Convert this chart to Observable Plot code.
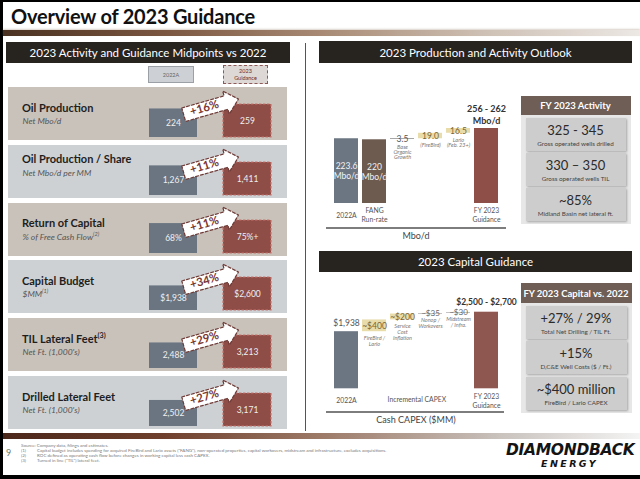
<!DOCTYPE html>
<html><head><meta charset="utf-8">
<script src="https://cdn.jsdelivr.net/npm/d3@7"></script>
<script src="https://cdn.jsdelivr.net/npm/@observablehq/plot@0.6"></script>
<style>
html,body{margin:0;padding:0;background:#fff}
#slide{position:relative;width:640px;height:479px;overflow:hidden;background:#fff;font-family:Lato,"Open Sans",sans-serif;color:#222}
.abs{position:absolute;box-sizing:border-box}
.hdr{background:#27231f;color:#fff;font-size:11.5px;display:flex;align-items:center;justify-content:center;white-space:nowrap}
.rt{font-weight:700;font-size:11px;line-height:13px;color:#1e1e1e;white-space:nowrap}
.rs{font-style:italic;font-size:8.5px;line-height:10px;color:#555;white-space:nowrap}
.rs sup,.rt sup{font-size:65%;vertical-align:super;line-height:0}
.kh{background:#6e5e55;color:#fff;font-weight:700;font-size:9.5px;display:flex;align-items:center;justify-content:center;white-space:nowrap}
.kp{background:#e7e7e7}
.kb{background:#cdcdcd;box-shadow:1px 1px 2px rgba(0,0,0,.28);text-align:center}
.kv{font-size:13px;color:#2a2a2a;line-height:15px;margin-top:5px;white-space:nowrap}
.kc{font-size:6.3px;color:#444;line-height:8px;margin-top:2px;white-space:nowrap}
svg.plt{position:absolute;overflow:visible}
</style></head>
<body><div id="slide"></div>
<script>
// ---------------- data ----------------
const periods = ["2022A", "2023 Guidance"];
const metricNames = ["Oil Production", "Oil Production / Share", "Return of Capital", "Capital Budget", "TIL Lateral Feet", "Drilled Lateral Feet"];
const metricTitleNotes = ["", "", "", "", "(3)", ""];
const metricUnits = ["Net Mbo/d", "Net Mbo/d per MM", "% of Free Cash Flow", "$MM", "Net Ft. (1,000's)", "Net Ft. (1,000's)"];
const metricUnitNotes = ["", "", "(2)", "(1)", "", ""];
const values2022 = [224, 1267, 68, 1938, 2488, 2502];
const values2023 = [259, 1411, 75, 2600, 3213, 3171];
const labels2022 = ["224", "1,267", "68%", "$1,938", "2,488", "2,502"];
const labels2023 = ["259", "1,411", "75%+", "$2,600", "3,213", "3,171"];
const changeLabels = ["+16%", "+11%", "+11%", "+34%", "+29%", "+27%"];

const prodNames = ["2022A", "FANG Run-rate", "Base Organic Growth", "FireBird", "Lario", "FY 2023 Guidance"];
const prodValues = [223.6, 220, 3.5, 19.0, 16.5, 259];
const prodKinds = ["total", "total", "step", "step", "step", "total"];
const prodValueLabels = ["223.6\nMbo/d", "220\nMbo/d", "3.5", "19.0", "16.5", "256 - 262\nMbo/d"];
const prodNotes = ["", "", "Base\nOrganic\nGrowth", "(FireBird)", "Lario\n(Feb. 23+)", ""];
const prodAxisLabels = ["2022A", "FANG\nRun-rate", "", "", "", "FY 2023\nGuidance"];

const capNames = ["2022A", "FireBird / Lario", "Service Cost Inflation", "Nonop / Workovers", "Midstream / Infra.", "FY 2023 Guidance"];
const capValues = [1938, 400, 200, 35, 30, 2600];
const capKinds = ["total", "step", "step", "step", "step", "total"];
const capValueLabels = ["$1,938", "~$400", "~$200", "~$35", "~$30", "$2,500 - $2,700"];
const capNotes = ["", "FireBird /\nLario", "Service\nCost\nInflation", "Nonop /\nWorkovers", "Midstream\n/ Infra.", ""];
const capAxisLabels = ["2022A", "", "", "", "", "FY 2023\nGuidance"];
const capGroupLabel = "Incremental CAPEX";

const activityValues = ["325 - 345", "330 – 350", "~85%"];
const activityCaptions = ["Gross operated wells drilled", "Gross operated wells TIL", "Midland Basin net lateral ft."];
const capitalKpiValues = ["+27% / 29%", "+15%", "~$400 million"];
const capitalKpiCaptions = ["Total Net Drilling / TIL Ft.", "D,C&E Well Costs ($ / Ft.)", "FireBird / Lario CAPEX"];

const footnotes = [
  ["", "Source: Company data, filings and estimates."],
  ["(1)", "Capital budget includes spending for acquired FireBird and Lario assets (\"FANG\"), non-operated properties, capital workovers, midstream and infrastructure, excludes acquisitions."],
  ["(2)", "ROC defined as operating cash flow before changes in working capital less cash CAPEX."],
  ["(3)", "Turned in line (\"TIL\") lateral feet."]
];

// ---------------- helpers ----------------
const slide = document.getElementById("slide");
function box(css, html, cls) {
  const e = document.createElement("div");
  e.className = "abs" + (cls ? " " + cls : "");
  e.style.cssText = css;
  if (html != null) e.innerHTML = html;
  slide.appendChild(e);
  return e;
}
function place(svg, left, top) {
  svg.classList.add("plt");
  svg.style.left = left + "px";
  svg.style.top = top + "px";
  slide.appendChild(svg);
}
function waterfall(names, values, kinds, valueLabels, notes, axisLabels) {
  let run = 0;
  const total = Math.max(...values);
  return names.map((name, i) => {
    let y1, y2;
    if (kinds[i] === "total") { y1 = 0; y2 = values[i]; run = values[i]; }
    else { y1 = run; y2 = run + values[i]; run = y2; }
    return {name, kind: kinds[i], value: values[i], y1, y2, label: valueLabels[i], note: notes[i], axis: axisLabels[i], thin: kinds[i] === "step" && values[i] / total < 0.03};
  });
}
const fontStyle = {fontFamily: "Lato, 'Open Sans', sans-serif", overflow: "visible", background: "transparent"};

// block arrow shape for Plot.vector
const blockArrow = {
  draw(context, l) {
    const hw = 7, hh = 12, hl = 13;
    context.moveTo(-hw, 0);
    context.lineTo(-hw, -(l - hl));
    context.lineTo(-hh, -(l - hl));
    context.lineTo(0, -l);
    context.lineTo(hh, -(l - hl));
    context.lineTo(hw, -(l - hl));
    context.lineTo(hw, 0);
    context.closePath();
  }
};

// ---------------- frame & title ----------------
box("left:0;top:0;width:640px;height:2px;background:#000");
box("left:0;top:0;width:3px;height:479px;background:#000");
box("left:0;top:475px;width:640px;height:4px;background:#000");
box("left:11px;top:2.5px;font-weight:700;font-size:20px;line-height:26px;color:#111;white-space:nowrap;letter-spacing:-0.2px", "Overview of 2023 Guidance");
box("left:3px;top:30px;width:637px;height:6px;background:linear-gradient(to right,#4a3222 0%,#7a5640 25%,#a88a74 50%,#cdbfb3 75%,#ece8e4 100%);box-shadow:0 -1px 2px rgba(150,120,100,.35)");
box("left:3px;top:433px;width:637px;height:6px;background:linear-gradient(to right,#4b271b 0%,#6e3f2c 25%,#9d7a68 50%,#c9c2bd 78%,#f4f4f4 100%)");
box("left:304.5px;top:43px;width:1.5px;height:388px;background:#555");

// ---------------- left panel ----------------
box("left:6px;top:42px;width:284px;height:21px", "2023 Activity and Guidance Midpoints vs 2022", "hdr");
box("left:148px;top:66px;width:46px;height:17px;background:#cdd1d5;border:1px solid #9aa0a6;font-size:5.5px;color:#666;display:flex;align-items:center;justify-content:center", periods[0]);
box("left:223px;top:65px;width:45px;height:19px;background:#ddd8d6;border:1.5px dashed #8d5a58;font-size:5.5px;line-height:6.5px;color:#6b2b2b;display:flex;align-items:center;justify-content:center;text-align:center", "2023<br>Guidance");

metricNames.forEach((name, i) => {
  const top = 87 + i * 57.8;
  box(`left:8px;top:${top}px;width:279px;height:53px;background:${i % 2 === 0 ? "#c9c2bb" : "#cdd1d4"}`);
  const tc = i === 1 ? 14 : 20;
  box(`left:22px;top:${top + tc - 6.5}px`, name + (metricTitleNotes[i] ? `<sup>${metricTitleNotes[i]}</sup>` : ""), "rt");
  box(`left:22.5px;top:${top + tc + 9}px`, metricUnits[i] + (metricUnitNotes[i] ? `<sup>${metricUnitNotes[i]}</sup>` : ""), "rs");

  const data = periods.map((p, j) => ({period: p, value: j ? values2023[i] : values2022[i], label: j ? labels2023[i] : labels2022[i], change: changeLabels[i]}));
  const chart = Plot.plot({
    width: 160, height: 53, marginTop: 0, marginBottom: 3, marginLeft: 0, marginRight: 0,
    x: {domain: periods, paddingInner: 0.35, paddingOuter: 0.25, axis: null},
    y: {domain: [0, values2023[i] * 50 / 33], axis: null},
    style: fontStyle,
    marks: [
      Plot.barY(data.slice(0, 1), {x: "period", y: "value", fill: "#6a7581"}),
      Plot.barY(data.slice(1), {x: "period", y: "value", fill: "#8e4d47", stroke: "#c9726b", strokeWidth: 1.2, strokeDasharray: "2.5,1.5"}),
      Plot.text(data, {x: "period", y: d => d.value / 2, text: "label", fill: "#f0f0f0", fontSize: 8.5}),
      Plot.vector(data.slice(1), {x: "period", y: "value", anchor: "end", length: 57, rotate: 74, dx: -9, dy: -5.5, shape: blockArrow, fill: "white", stroke: "#6e3a36", strokeWidth: 1.2, strokeDasharray: "3,2"}),
      Plot.text(data.slice(1), {x: "period", y: "value", text: "change", dx: -43, dy: 3.5, rotate: -16, fontSize: 11.5, fontWeight: "bold", fill: "#7c3833"})
    ]
  });
  place(chart, 130, top);
});

// ---------------- right: production ----------------
box("left:319px;top:41px;width:313px;height:22px", "2023 Production and Activity Outlook", "hdr");
const prod = waterfall(prodNames, prodValues, prodKinds, prodValueLabels, prodNotes, prodAxisLabels);
const prodLast = prodNames[prodNames.length - 1];
const prodChart = Plot.plot({
  width: 180, height: 145, marginTop: 33, marginBottom: 37, marginLeft: 0, marginRight: 0,
  x: {domain: prodNames, paddingInner: 0.13, paddingOuter: 0.2, axis: null},
  y: {domain: [0, 259], axis: null},
  color: {domain: prodNames, range: ["#6b7682", "#6d5b4f", "#6f6f6f", "#e9dcab", "#e9dcab", "#8e4f49"]},
  style: fontStyle,
  marks: [
    Plot.barY(prod, {x: "name", y1: d => d.thin ? d.y2 - 0.15 * (d.y2 - d.y1) - 1.6 : d.y1, y2: "y2", fill: "name"}),
    Plot.text(prod.filter(d => d.kind === "total" && d.name !== prodLast), {x: "name", y: d => d.y2 / 2, text: "label", fill: "#f2f2f2", fontSize: 8.5, lineHeight: 1.15}),
    Plot.text(prod.filter(d => d.name === prodLast), {x: "name", y: "y2", text: "label", dy: -5, lineAnchor: "bottom", fontWeight: "bold", fontSize: 9, fill: "#333", lineHeight: 1.3}),
    Plot.text(prod.filter(d => d.kind === "step" && !d.thin), {x: "name", y: d => (d.y1 + d.y2) / 2, text: "label", fill: "#7a6530", fontSize: 8.5}),
    Plot.text(prod.filter(d => d.thin), {x: "name", y: d => (d.y1 + d.y2) / 2, text: "label", fill: "#555", fontSize: 8.5}),
    Plot.text(prod, {x: "name", y: "y1", text: "note", lineAnchor: "top", dy: 5, fontSize: 5.5, lineHeight: 0.95, fontStyle: "italic", fill: "#777"}),
    Plot.text(prod, {x: "name", text: "axis", frameAnchor: "bottom", dy: 11.5, lineAnchor: "middle", fontSize: 6.8, lineHeight: 1.3, fill: "#555"})
  ]
});
place(prodChart, 326, 95);
box("left:326px;top:226.5px;width:180px;height:2px;background:#7d7d7d");
box("left:326px;top:230px;width:180px;text-align:center;font-size:9px;line-height:11px;color:#444", "Mbo/d");

// activity KPIs
box("left:520.5px;top:96px;width:110px;height:19px", "FY 2023 Activity", "kh");
box("left:520.5px;top:115px;width:110px;height:109px", null, "kp");
activityValues.forEach((v, i) => {
  box(`left:525.5px;top:${118 + i * 35}px;width:100px;height:33px`, `<div class="kv">${v}</div><div class="kc">${activityCaptions[i]}</div>`, "kb");
});

// ---------------- right: capital ----------------
box("left:319px;top:251px;width:313px;height:21px", "2023 Capital Guidance", "hdr");
const cap = waterfall(capNames, capValues, capKinds, capValueLabels, capNotes, capAxisLabels);
const capChart = Plot.plot({
  width: 180, height: 125, marginTop: 23.7, marginBottom: 24.7, marginLeft: 0, marginRight: 0,
  x: {domain: capNames, paddingInner: 0.13, paddingOuter: 0.2, axis: null},
  y: {domain: [0, 2600], axis: null},
  color: {domain: capNames, range: ["#6b7682", "#e9dcab", "#e9dcab", "#7a7a7a", "#7a7a7a", "#8e5750"]},
  style: fontStyle,
  marks: [
    Plot.barY(cap, {x: "name", y1: d => d.thin ? d.y2 - 0.5 * (d.y2 - d.y1) - 15 : d.y1, y2: d => d.thin ? d.y2 - 0.5 * (d.y2 - d.y1) : d.y2, fill: "name"}),
    Plot.text(cap.filter(d => d.name === capNames[0]), {x: "name", y: "y2", text: "label", dy: -6, lineAnchor: "bottom", fontSize: 8.5, fill: "#555"}),
    Plot.text(cap.filter(d => d.name === capNames[capNames.length - 1]), {x: "name", y: "y2", text: "label", dy: -7, lineAnchor: "bottom", fontWeight: "bold", fontSize: 8.5, fill: "#333"}),
    Plot.text(cap.filter(d => d.kind === "step" && !d.thin), {x: "name", y: d => (d.y1 + d.y2) / 2, text: "label", fill: "#7a6530", fontSize: 8.5}),
    Plot.text(cap.filter(d => d.thin), {x: "name", y: d => (d.y1 + d.y2) / 2, text: "label", fill: "#666", fontSize: 8}),
    Plot.text(cap, {x: "name", y: "y1", text: "note", lineAnchor: "top", dy: 4, fontSize: 5.5, lineHeight: 1.05, fontStyle: "italic", fill: "#777"}),
    Plot.text(cap, {x: "name", text: "axis", frameAnchor: "bottom", dy: 11.5, lineAnchor: "middle", fontSize: 6.8, lineHeight: 1.3, fill: "#555"}),
    Plot.text([capNames[2]], {x: d => d, text: () => capGroupLabel, frameAnchor: "bottom", dy: 11.5, dx: 14.35, lineAnchor: "middle", fontSize: 6.8, fill: "#555"})
  ]
});
place(capChart, 326, 288);
box("left:326px;top:410.5px;width:178px;height:2px;background:#7d7d7d");
box("left:326px;top:414px;width:180px;text-align:center;font-size:9px;line-height:11px;color:#444", "Cash CAPEX ($MM)");

box("left:520.5px;top:283px;width:111px;height:20px", "FY 2023 Capital vs. 2022", "kh");
box("left:520.5px;top:303px;width:111px;height:110px", null, "kp");
capitalKpiValues.forEach((v, i) => {
  box(`left:525.5px;top:${305.5 + i * 35.5}px;width:101px;height:33px`, `<div class="kv">${v}</div><div class="kc">${capitalKpiCaptions[i]}</div>`, "kb");
});

// ---------------- footer ----------------
box("left:6px;top:448px;font-size:9px;line-height:10px;color:#6e7d6a", "9");
const fn = box("left:21px;top:442.5px;width:900px;transform:scale(0.5);transform-origin:0 0;font-size:9px;line-height:10px;color:#7a7a7a;white-space:nowrap");
fn.innerHTML = footnotes.map(([n, t]) => `<div style="position:relative;height:10px"><span style="display:inline-block;width:${n ? 32 : 0}px">${n}</span>${t}</div>`).join("");
box("left:506px;top:441px;font-family:'DejaVu Sans',sans-serif;font-weight:900;font-style:italic;font-size:15.5px;line-height:18px;color:#141414;letter-spacing:-0.3px;white-space:nowrap", "DIAMONDBACK");
box("left:541px;top:457.5px;font-family:'DejaVu Sans',sans-serif;font-weight:700;font-style:italic;font-size:9.5px;line-height:12px;color:#141414;letter-spacing:2.4px;white-space:nowrap", "ENERGY");
</script>
</body></html>
